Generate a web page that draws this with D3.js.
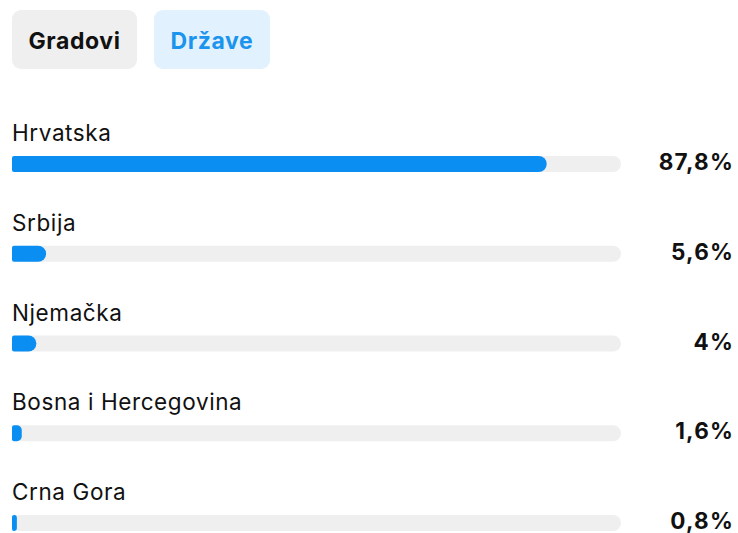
<!DOCTYPE html>
<html>
<head>
<meta charset="utf-8">
<script src="https://cdn.jsdelivr.net/npm/d3@7"></script>
<style>
  html, body { margin: 0; padding: 0; background: #ffffff; }
  svg { display: block; font-family: Inter, "Noto Sans", "DejaVu Sans", sans-serif; }
</style>
</head>
<body>
<svg id="chart" width="738" height="533"></svg>
<script>
const tabs = ["Gradovi", "Države"];
const activeTab = "Države";
const countries = ["Hrvatska", "Srbija", "Njemačka", "Bosna i Hercegovina", "Crna Gora"];
const values = [87.8, 5.6, 4, 1.6, 0.8];
const valueLabels = ["87,8%", "5,6%", "4%", "1,6%", "0,8%"];

const svg = d3.select("#chart");

// Tabs
const tabX = [12, 154], tabW = [125, 116];
const tabG = svg.selectAll("g.tab").data(tabs).join("g").attr("class", "tab")
  .attr("transform", (d, i) => `translate(${tabX[i]},10)`);
tabG.append("rect")
  .attr("width", (d, i) => tabW[i]).attr("height", 59).attr("rx", 9)
  .attr("fill", d => d === activeTab ? "#e1f1fd" : "#efefef");
tabG.append("text")
  .attr("x", (d, i) => tabW[i] / 2).attr("y", 39)
  .attr("text-anchor", "middle")
  .attr("font-size", 23).attr("font-weight", 700).attr("letter-spacing", 0.6)
  .attr("fill", d => d === activeTab ? "#1b94ee" : "#111111")
  .text(d => d);

// Bars
const x = d3.scaleLinear().domain([0, 100]).range([12, 621]);
const y = d3.scaleBand().domain(countries).range([120, 120 + 5 * 89.75]).paddingInner(0);
const barH = 16;

const rows = svg.selectAll("g.row").data(countries).join("g").attr("class", "row")
  .attr("transform", d => `translate(0,${y(d)})`);

rows.append("text")
  .attr("x", 12).attr("y", 21)
  .attr("font-size", 22.5).attr("letter-spacing", 0.6).attr("fill", "#111111")
  .text(d => d);

rows.append("rect")
  .attr("x", x(0)).attr("y", 36).attr("width", x(100) - x(0)).attr("height", barH)
  .attr("rx", barH / 2).attr("fill", "#efefef");

function barPath(x0, x1, h, rl, rr) {
  const w = x1 - x0;
  rr = Math.min(rr, w / 2, h / 2);
  rl = Math.min(rl, w / 2);
  return `M${x0 + rl},0 H${x1 - rr} A${rr},${rr} 0 0 1 ${x1},${rr} V${h - rr} A${rr},${rr} 0 0 1 ${x1 - rr},${h}` +
         ` H${x0 + rl} A${rl},${rl} 0 0 1 ${x0},${h - rl} V${rl} A${rl},${rl} 0 0 1 ${x0 + rl},0 Z`;
}

rows.append("path")
  .attr("transform", "translate(0,36)")
  .attr("d", (d, i) => barPath(x(0), x(values[i]), barH, 2, 8))
  .attr("fill", "#0a8ef1");

rows.append("text")
  .attr("x", 734).attr("y", 50)
  .attr("text-anchor", "end")
  .attr("font-size", 22.5).attr("font-weight", 700).attr("letter-spacing", 1.2).attr("fill", "#111111")
  .text((d, i) => valueLabels[i]);
</script>
</body>
</html>
